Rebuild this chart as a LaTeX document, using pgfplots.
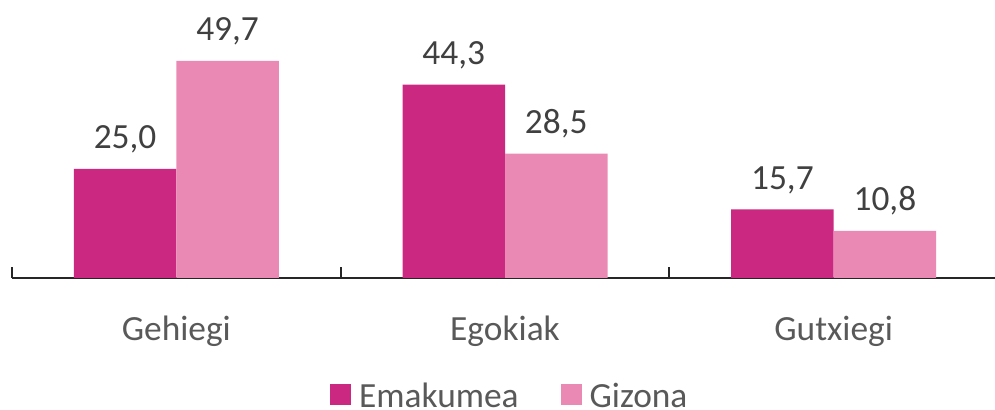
\documentclass[border=0pt]{standalone}
\usepackage{fontspec}
\setmainfont{Carlito}
\usepackage{pgfplots}
\pgfplotsset{compat=1.18}
\definecolor{emak}{HTML}{CB2881}
\definecolor{giz}{HTML}{EA8AB4}
\definecolor{lab}{HTML}{404040}
\definecolor{tickc}{HTML}{595959}
\begin{document}
\begin{tikzpicture}
\useasboundingbox (0,0) rectangle (995bp,410bp);
\begin{axis}[
  at={(12bp,132bp)}, anchor=south west,
  scale only axis, width=986bp, height=262bp,
  xmin=-0.5, xmax=2.5, ymin=0, ymax=60,
  ybar=0pt, bar width=102.5bp,
  axis x line*=bottom, axis y line=none,
  x axis line style={line width=1.5bp, color=black!85},
  every tick/.style={line width=2bp, color=black!85},
  xtick={0,1,2}, xticklabels={Gehiegi,Egokiak,Gutxiegi},
  major tick length=0pt, tick align=inside,
  extra x ticks={-0.5,0.5,1.5,2.5}, extra x tick labels={},
  extra x tick style={major tick length=11bp, tick style={line width=2bp, color=black!85}},
  xticklabel style={anchor=base, yshift=-62bp, text=tickc, font=\fontsize{35.5}{42}\selectfont},
  /pgf/number format/.cd, fixed, fixed zerofill, precision=1, use comma, assume math mode=true,
  /pgfplots/.cd,
  nodes near coords,
  every node near coord/.append style={anchor=base, yshift=20bp, text=lab, font=\fontsize{35.5}{42}\selectfont},
  legend columns=2,
  legend style={draw=none, fill=none, inner sep=0pt, at={(0.3225,-0.508)}, anchor=south west, font=\fontsize{35.5}{42}\selectfont, text=tickc,
    /tikz/every even column/.append style={column sep=40bp},
    /tikz/every odd column/.append style={column sep=6bp}},
  legend image code/.code={\fill[#1] (0bp,-9bp) rectangle (21bp,12bp);},
]
\addplot[fill=emak, draw=none] coordinates {(0,25.0) (1,44.3) (2,15.7)};
\addplot[fill=giz, draw=none] coordinates {(0,49.7) (1,28.5) (2,10.8)};
\legend{Emakumea, Gizona}
\end{axis}
\end{tikzpicture}
\end{document}
